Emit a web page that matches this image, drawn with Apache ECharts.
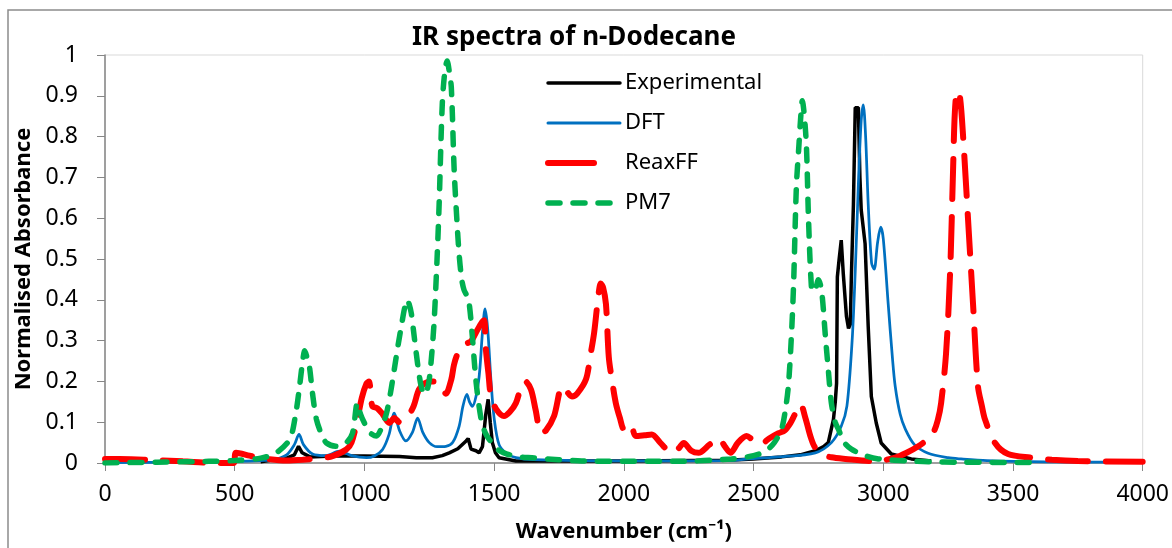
<!DOCTYPE html>
<html>
<head>
<meta charset="utf-8">
<script src="https://cdn.jsdelivr.net/npm/echarts@6/dist/echarts.min.js"></script>
<style>
  html, body { margin: 0; padding: 0; background: #fff; }
  #main { width: 1172px; height: 548px; }
</style>
</head>
<body>
<div id="main"></div>
<script>
// wavenumber (cm-1) / normalised absorbance pairs
var experimental = [
  [600,0.003],[650,0.008],[700,0.012],[730,0.02],[746,0.041],[760,0.025],[790,0.015],[877,0.017],
  [1000,0.017],[1135,0.016],[1200,0.013],[1262,0.013],[1300,0.018],[1327,0.025],[1360,0.035],
  [1392,0.054],[1400,0.06],[1411,0.034],[1430,0.03],[1442,0.025],[1455,0.04],[1468,0.12],
  [1477,0.156],[1485,0.1],[1493,0.05],[1505,0.025],[1519,0.013],[1584,0.005],[2000,0.005],
  [2400,0.007],[2500,0.01],[2608,0.015],[2680,0.02],[2738,0.03],[2770,0.04],[2788,0.05],
  [2808,0.107],[2815,0.15],[2820,0.195],[2823,0.456],[2830,0.5],[2838,0.546],[2846,0.463],
  [2858,0.36],[2866,0.33],[2873,0.34],[2877,0.456],[2885,0.634],[2892,0.871],[2904,0.871],
  [2910,0.7],[2915,0.62],[2930,0.537],[2942,0.334],[2954,0.163],[2973,0.098],[2992,0.049],
  [3031,0.022],[3108,0.01],[3185,0.005]
];
var dft = [
  [0,0.001],[300,0.002],[500,0.004],[600,0.006],[650,0.008],[700,0.02],[730,0.045],[748,0.07],
  [765,0.045],[800,0.022],[850,0.018],[904,0.029],[950,0.018],[1008,0.013],[1040,0.018],
  [1070,0.033],[1095,0.07],[1115,0.122],[1135,0.08],[1160,0.054],[1185,0.075],[1205,0.11],
  [1225,0.075],[1250,0.05],[1280,0.04],[1314,0.041],[1340,0.05],[1365,0.09],[1380,0.14],
  [1395,0.168],[1405,0.15],[1416,0.139],[1440,0.2],[1455,0.32],[1465,0.378],[1475,0.33],
  [1488,0.2],[1500,0.11],[1519,0.045],[1550,0.022],[1584,0.013],[1650,0.008],[2000,0.005],
  [2400,0.006],[2481,0.01],[2600,0.015],[2738,0.025],[2800,0.05],[2838,0.09],[2860,0.14],
  [2880,0.3],[2892,0.47],[2905,0.7],[2915,0.84],[2923,0.878],[2932,0.8],[2942,0.634],
  [2955,0.49],[2965,0.475],[2978,0.54],[2990,0.578],[3000,0.55],[3019,0.39],[3035,0.26],
  [3046,0.188],[3065,0.12],[3085,0.083],[3120,0.045],[3173,0.024],[3250,0.013],[3300,0.01],
  [3400,0.006],[3623,0.003],[4000,0.002]
];
var reaxff = [
  [0,0.01],[100,0.009],[200,0.007],[300,0.004],[430,0.0],[495,0.0],[505,0.025],[557,0.018],
  [600,0.012],[700,0.006],[762,0.008],[830,0.012],[877,0.017],[930,0.033],[950,0.05],
  [969,0.095],[990,0.16],[1008,0.195],[1018,0.2],[1030,0.14],[1050,0.134],[1070,0.12],
  [1096,0.098],[1115,0.11],[1135,0.1],[1155,0.11],[1173,0.12],[1190,0.14],[1210,0.18],
  [1231,0.195],[1255,0.2],[1277,0.2],[1300,0.185],[1314,0.17],[1335,0.205],[1345,0.24],
  [1358,0.266],[1384,0.29],[1411,0.298],[1430,0.32],[1454,0.346],[1462,0.35],[1468,0.28],
  [1478,0.22],[1488,0.163],[1510,0.13],[1538,0.115],[1560,0.125],[1584,0.147],[1608,0.195],
  [1620,0.2],[1642,0.18],[1660,0.13],[1681,0.073],[1700,0.08],[1731,0.115],[1762,0.188],
  [1775,0.18],[1800,0.163],[1820,0.17],[1854,0.205],[1870,0.26],[1885,0.317],[1900,0.4],
  [1911,0.44],[1920,0.43],[1931,0.39],[1942,0.26],[1955,0.2],[1969,0.147],[1985,0.11],
  [2000,0.083],[2015,0.09],[2027,0.095],[2046,0.066],[2080,0.068],[2108,0.07],[2140,0.05],
  [2185,0.025],[2210,0.035],[2231,0.049],[2260,0.03],[2288,0.025],[2330,0.045],[2365,0.061],
  [2390,0.04],[2411,0.025],[2440,0.05],[2473,0.066],[2500,0.055],[2527,0.046],[2560,0.06],
  [2596,0.073],[2620,0.08],[2642,0.098],[2660,0.12],[2681,0.144],[2700,0.11],[2719,0.066],
  [2735,0.04],[2762,0.022],[2800,0.014],[2854,0.01],[2954,0.005],[3000,0.007],[3046,0.013],
  [3090,0.025],[3135,0.041],[3170,0.058],[3192,0.073],[3210,0.105],[3223,0.147],[3242,0.268],
  [3258,0.473],[3269,0.717],[3276,0.86],[3285,0.912],[3296,0.895],[3308,0.798],[3327,0.595],
  [3346,0.39],[3365,0.188],[3380,0.14],[3392,0.107],[3431,0.049],[3481,0.022],[3569,0.013],
  [3650,0.008],[3750,0.005],[4000,0.003]
];
var pm7 = [
  [0,0.0],[200,0.002],[400,0.004],[500,0.006],[600,0.012],[660,0.025],[712,0.058],[735,0.12],
  [750,0.188],[762,0.25],[770,0.275],[778,0.26],[788,0.236],[800,0.17],[815,0.107],[835,0.07],
  [854,0.049],[892,0.041],[930,0.05],[954,0.073],[973,0.147],[985,0.12],[1000,0.098],
  [1020,0.075],[1046,0.066],[1065,0.085],[1085,0.122],[1100,0.17],[1115,0.229],[1130,0.29],
  [1142,0.334],[1155,0.38],[1165,0.4],[1172,0.39],[1181,0.366],[1190,0.32],[1200,0.268],
  [1210,0.22],[1219,0.188],[1231,0.168],[1242,0.18],[1250,0.205],[1260,0.27],[1269,0.35],
  [1280,0.5],[1288,0.634],[1300,0.878],[1310,0.96],[1319,0.985],[1327,0.96],[1335,0.92],
  [1346,0.717],[1356,0.6],[1365,0.512],[1375,0.45],[1384,0.424],[1395,0.41],[1404,0.39],
  [1416,0.31],[1431,0.195],[1450,0.107],[1465,0.075],[1481,0.058],[1512,0.034],[1550,0.022],
  [1600,0.015],[1646,0.013],[1750,0.008],[1838,0.005],[2000,0.004],[2200,0.004],[2415,0.01],
  [2500,0.018],[2546,0.029],[2580,0.05],[2608,0.083],[2625,0.14],[2635,0.195],[2645,0.3],
  [2654,0.432],[2665,0.676],[2675,0.78],[2681,0.84],[2688,0.888],[2696,0.85],[2704,0.773],
  [2712,0.595],[2723,0.432],[2730,0.42],[2738,0.424],[2750,0.449],[2762,0.424],[2777,0.31],
  [2788,0.229],[2800,0.147],[2815,0.1],[2827,0.083],[2850,0.05],[2877,0.034],[2930,0.018],
  [2981,0.01],[3100,0.005],[3173,0.003],[3300,0.002],[3580,0.001]
];

var font = 'Noto Sans';
var chart = echarts.init(document.getElementById('main'));
var option = {
  animation: false,
  backgroundColor: '#fff',
  title: {
    text: 'IR spectra of n-Dodecane',
    left: 569,
    textAlign: 'center',
    top: 20,
    textStyle: { fontFamily: font, fontWeight: 'bold', fontSize: 26, color: '#000' }
  },
  legend: {
    orient: 'vertical',
    left: 540,
    top: 67,
    itemWidth: 72,
    itemHeight: 14,
    itemGap: 18,
    itemStyle: { opacity: 0 },
    textStyle: { fontFamily: font, fontSize: 22, color: '#000' },
    data: [
      { name: 'Experimental', lineStyle: { width: 3.5, type: 'solid', cap: 'round' } },
      { name: 'DFT', lineStyle: { width: 3, type: 'solid', cap: 'round' } },
      { name: 'ReaxFF', lineStyle: { width: 6, type: [46, 40], cap: 'round' } },
      { name: 'PM7', lineStyle: { width: 5.5, type: [12, 13], cap: 'round' } }
    ]
  },
  graphic: [{
    type: 'rect',
    shape: { x: 8, y: 10, width: 1300, height: 700 },
    style: { fill: 'none', stroke: '#8c8c8c', lineWidth: 1.5 },
    silent: true
  }],
  grid: {
    left: 105, right: 29, top: 55, bottom: 81,
    show: true, borderColor: '#d9d9d9', borderWidth: 1
  },
  xAxis: {
    type: 'value',
    min: 0, max: 4000, interval: 500,
    name: 'Wavenumber (cm⁻¹)',
    nameLocation: 'middle',
    nameGap: 58,
    nameTextStyle: { fontFamily: font, fontWeight: 'bold', fontSize: 22, color: '#000' },
    axisLine: { lineStyle: { color: '#868686', width: 1.5 } },
    axisTick: { show: true, length: 8, lineStyle: { color: '#868686' } },
    axisLabel: {
      fontFamily: font, fontSize: 23, color: '#000', margin: 20,
      formatter: function (v) { return String(v); }
    },
    splitLine: { show: false }
  },
  yAxis: {
    type: 'value',
    min: 0, max: 1, interval: 0.1,
    name: 'Normalised Absorbance',
    nameLocation: 'middle',
    nameGap: 64,
    nameTextStyle: { fontFamily: font, fontWeight: 'bold', fontSize: 22, color: '#000' },
    axisLine: { show: true, lineStyle: { color: '#868686', width: 1.5 } },
    axisTick: { show: true, length: 8, lineStyle: { color: '#868686' } },
    axisLabel: { fontFamily: font, fontSize: 23, color: '#000', margin: 27 },
    splitLine: { show: false }
  },
  series: [
    {
      name: 'Experimental', type: 'line', data: experimental,
      symbol: 'none', color: '#000000',
      lineStyle: { width: 3.5, color: '#000000' }
    },
    {
      name: 'DFT', type: 'line', data: dft,
      symbol: 'none', smooth: 0.3, color: '#0070C0',
      lineStyle: { width: 2.75, color: '#0070C0' }
    },
    {
      name: 'ReaxFF', type: 'line', data: reaxff,
      symbol: 'none', smooth: 0.3, color: '#FF0000',
      lineStyle: { width: 6, color: '#FF0000', type: [40, 18], cap: 'round' }
    },
    {
      name: 'PM7', type: 'line', data: pm7,
      symbol: 'none', smooth: 0.3, color: '#00B050',
      lineStyle: { width: 5.5, color: '#00B050', type: [12, 13], cap: 'round' }
    }
  ]
};
chart.setOption(option);
</script>
</body>
</html>
